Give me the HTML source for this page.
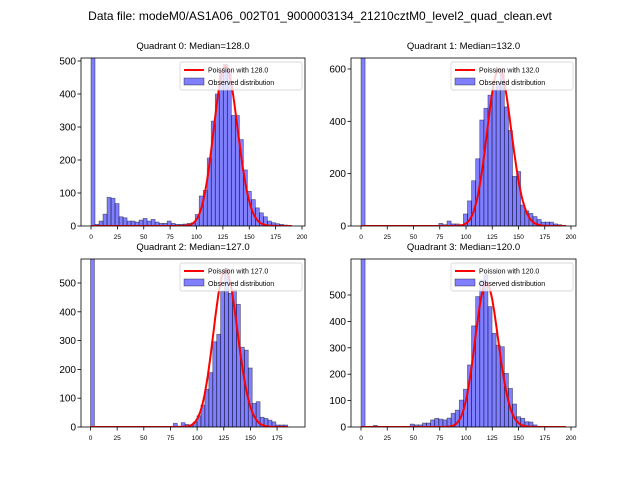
<!DOCTYPE html>
<html><head><meta charset="utf-8"><style>
body{margin:0;background:#fff}
svg text{font-family:"Liberation Sans","DejaVu Sans",sans-serif}
</style></head><body>
<svg id="chart" width="640" height="480" xmlns="http://www.w3.org/2000/svg">
<rect width="640" height="480" fill="#fff"/>
<text x="320" y="20" font-size="12" text-anchor="middle">Data file: modeM0/AS1A06_002T01_9000003134_21210cztM0_level2_quad_clean.evt</text>
</svg>
<script>
const quadrantNames = ["Quadrant 0","Quadrant 1","Quadrant 2","Quadrant 3"];
const medians = [128.0,132.0,127.0,120.0];
const binWidths = [3.8,3.9,3.7,3.9];
const counts0 = [5000,5,15,36,87,84,68,28,25,15,15,12,18,23,15,20,12,8,8,15,8,5,5,6,8,10,35,91,108,206,318,400,470,490,470,335,335,262,170,105,80,55,40,28,15,10,7,5,3,2];
const counts1 = [5000,0,0,0,0,0,0,0,0,0,0,0,0,0,0,0,0,0,0,10,5,19,8,8,5,46,96,173,257,405,450,500,520,545,600,455,365,190,208,80,58,48,36,25,15,15,15,8,5,2];
const counts2 = [5000,0,0,0,0,0,0,0,0,0,0,0,0,0,0,0,0,0,0,0,0,13,3,15,9,5,17,39,76,131,189,296,322,470,550,464,476,426,277,267,205,82,88,34,30,24,18,7,7,7];
const counts3 = [5000,0,0,6,2,2,2,2,2,2,2,2,11,8,8,15,15,27,33,30,27,34,52,64,102,143,235,383,494,557,576,456,355,310,304,203,146,87,39,33,20,19,8,0,0,0,0,0,0,0];
const allCounts = [counts0,counts1,counts2,counts3];
const poissonPeaks = [485,600,545,545];
const yTicks0 = [0,100,200,300,400,500];
const yTicks1 = [0,200,400,600];
const yTicks2 = [0,100,200,300,400,500];
const yTicks3 = [0,100,200,300,400,500];
const allYTicks = [yTicks0,yTicks1,yTicks2,yTicks3];
const xTicksFull = [0,25,50,75,100,125,150,175,200];
const xTicksShort = [0,25,50,75,100,125,150,175];
const allXTicks = [xTicksFull,xTicksFull,xTicksShort,xTicksFull];

const panels = [
 {L:81,R:305,T:58,B:226,x0:91,xs:1.055,ys:0.33},
 {L:351,R:576,T:58,B:226,x0:361,xs:1.05,ys:0.2617},
 {L:81,R:305,T:259,B:427,x0:90.5,xs:1.066,ys:0.288},
 {L:351,R:576,T:259,B:427,x0:361,xs:1.05,ys:0.264}
];
const NS="http://www.w3.org/2000/svg";
const svg=document.getElementById('chart');
function mk(tag,attrs,parent){const e=document.createElementNS(NS,tag);for(const k in attrs)e.setAttribute(k,attrs[k]);(parent||svg).appendChild(e);return e;}
function lgamma(n){let s=0;for(let i=2;i<=n;i++)s+=Math.log(i);return s;}
function pois(k,l){return Math.exp(k*Math.log(l)-l-lgamma(k));}

panels.forEach((p,i)=>{
 const xS=v=>p.x0+v*p.xs, yS=v=>p.B-v*p.ys;
 const g=mk('g',{});
 
 
 const cp=mk('clipPath',{id:'cp'+i},g);
 mk('rect',{x:p.L,y:p.T,width:p.R-p.L,height:p.B-p.T},cp);
 const bars=mk('g',{'clip-path':'url(#cp'+i+')'},g);
 const bw=binWidths[i];
 allCounts[i].forEach((c,k)=>{
  if(c<=0)return;
  const x1=xS(k*bw),x2=xS((k+1)*bw);
  const r=mk('rect',{x:x1,y:yS(c),width:x2-x1,height:Math.max(0,p.B-yS(c)),fill:'rgba(0,0,255,0.5)',stroke:'rgba(0,0,0,0.5)','stroke-width':0.7},bars);
  
  
 });
 const lam=medians[i];const pk=pois(Math.round(lam),lam);
 let d='';const xmax=bw*50;
 for(let k=0;k<=Math.floor(xmax);k++){const v=poissonPeaks[i]*pois(k,lam)/pk;d+=(k?'L':'M')+xS(k).toFixed(1)+','+yS(v).toFixed(1);}
 const pl=mk('path',{d:d,fill:'none',stroke:'red','stroke-width':2,'clip-path':'url(#cp'+i+')'},g);
 
 
 const fr=mk('rect',{x:p.L,y:p.T,width:p.R-p.L,height:p.B-p.T,fill:'none',stroke:'#000','stroke-width':0.8},g);
 
 
 allYTicks[i].forEach(t=>{
  const y=yS(t);
  mk('line',{x1:p.L-3.5,x2:p.L,y1:y,y2:y,stroke:'#000','stroke-width':0.8},g);
  const tx=mk('text',{x:p.L-5,y:y+3.5,'font-size':10,'text-anchor':'end'},g);
  tx.textContent=t;
  
  
 });
 allXTicks[i].forEach(t=>{
  const x=xS(t);
  mk('line',{x1:x,x2:x,y1:p.B,y2:p.B+3.5,stroke:'#000','stroke-width':0.8},g);
  const tx=mk('text',{x:x,y:p.B+13,'font-size':6.5,'text-anchor':'middle'},g);
  tx.textContent=t;
  
  
 });
 const ti=mk('text',{x:(p.L+p.R)/2,y:p.T-9,'font-size':9.5,'text-anchor':'middle'},g);
 ti.textContent=quadrantNames[i]+': Median='+medians[i].toFixed(1);
 
 
 const lg=mk('g',{},g);
 
 
 const lx=p.R-125, ly=p.T+4;
 mk('rect',{x:lx,y:ly,width:122,height:28,fill:'rgba(255,255,255,0.8)',stroke:'#ccc','stroke-width':0.7,rx:2},lg);
 mk('line',{x1:lx+4,x2:lx+24,y1:ly+8,y2:ly+8,stroke:'red','stroke-width':2},lg);
 const t1=mk('text',{x:lx+28,y:ly+10.5,'font-size':7},lg);t1.textContent='Poission with '+medians[i].toFixed(1);
 
 
 mk('rect',{x:lx+4,y:ly+16,width:20,height:7,fill:'rgba(0,0,255,0.5)',stroke:'rgba(0,0,0,0.5)','stroke-width':0.7},lg);
 const t2=mk('text',{x:lx+28,y:ly+23,'font-size':7},lg);t2.textContent='Observed distribution';
 
 
});
</script>
</body></html>
